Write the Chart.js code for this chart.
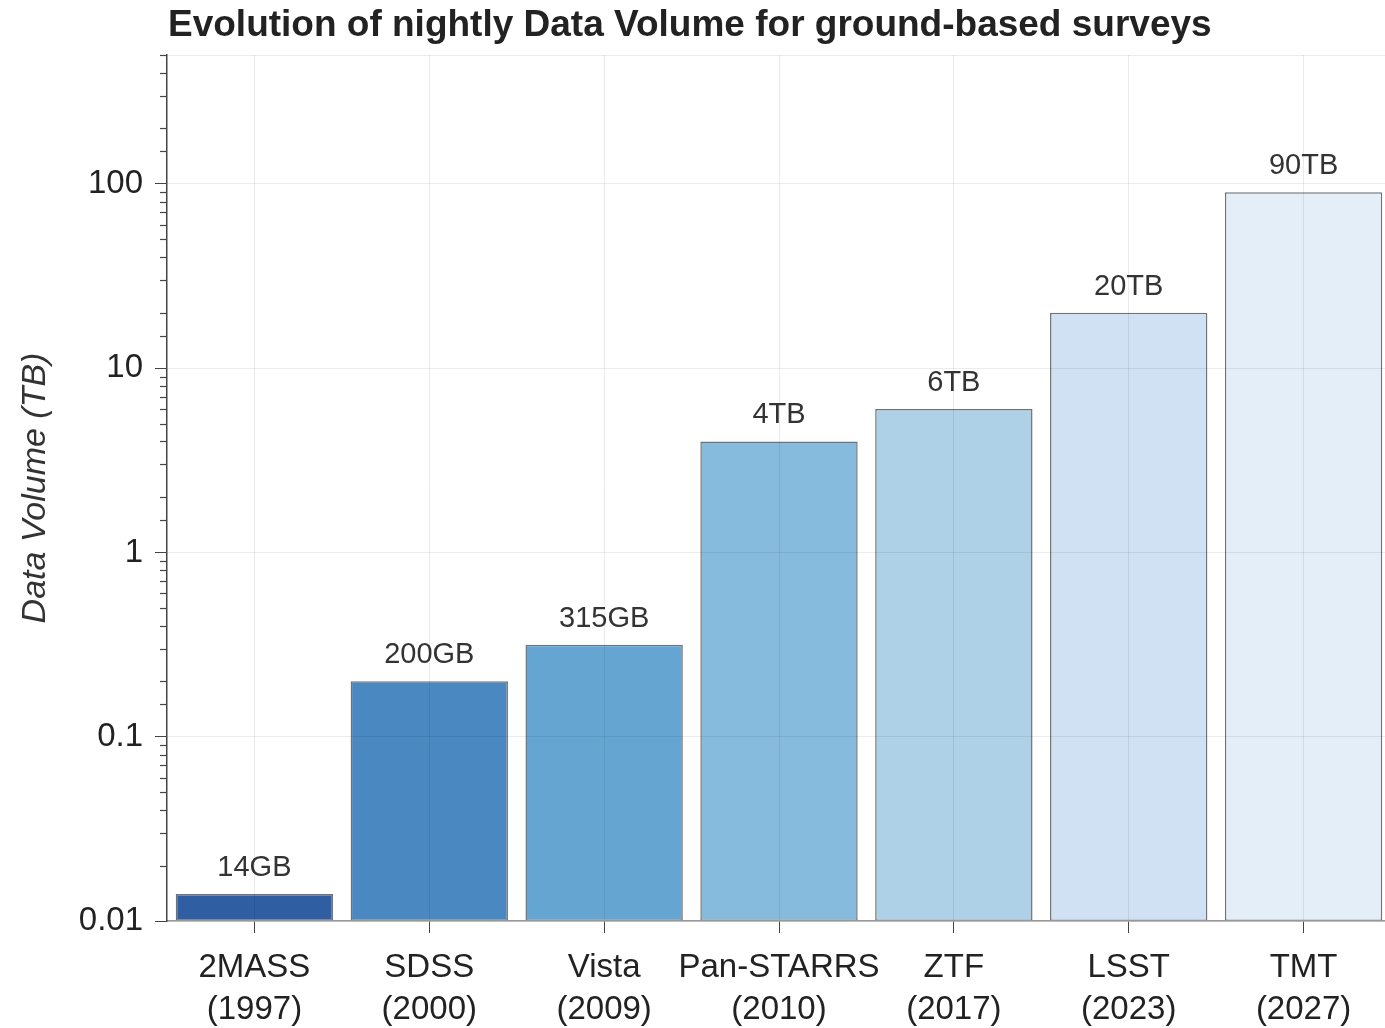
<!DOCTYPE html>
<html>
<head>
<meta charset="utf-8">
<script src="https://cdn.jsdelivr.net/npm/chart.js@4.4.0/dist/chart.umd.min.js"></script>
<style>
  html, body { margin: 0; padding: 0; background: #fff; overflow: hidden; }
  #wrap { width: 1391px; height: 1028px; }
</style>
</head>
<body>
<div id="wrap"><canvas id="grafico" width="1391" height="1028"></canvas></div>
<script>
// Dados
const surveys = ['2MASS', 'SDSS', 'Vista', 'Pan-STARRS', 'ZTF', 'LSST', 'TMT'];
const anos = ['1997', '2000', '2009', '2010', '2017', '2023', '2027'];
const volumeTB = [0.014, 0.2, 0.315, 4, 6, 20, 90];
const rotulos = ['14GB', '200GB', '315GB', '4TB', '6TB', '20TB', '90TB'];
const cores = ['#2f5fa2', '#4a88c2', '#65a5d2', '#87bbde', '#afd1e7', '#cfe1f2', '#e3eef9'];

const FONTE = '"Liberation Sans", Arial, Helvetica, sans-serif';
const TITULO = 'Evolution of nightly Data Volume for ground-based surveys';
const TITULO_Y = 'Data Volume (TB)';

function ehDecada(v) {
  const l = Math.log10(v);
  return Math.abs(l - Math.round(l)) < 1e-9;
}

// Título, rótulos das barras e ticks menores
const extras = {
  id: 'extras',
  afterDraw(chart) {
    const ctx = chart.ctx;
    const area = chart.chartArea;
    ctx.save();

    ctx.fillStyle = '#222';
    ctx.font = 'bold 37px ' + FONTE;
    ctx.textAlign = 'left';
    ctx.textBaseline = 'middle';
    ctx.fillText(TITULO, area.left + 1, 26);

    ctx.save();
    ctx.translate(36, (area.top + area.bottom) / 2);
    ctx.rotate(-Math.PI / 2);
    ctx.font = 'italic 34px ' + FONTE;
    ctx.fillStyle = '#333';
    ctx.textAlign = 'center';
    ctx.fillText(TITULO_Y, 0, 0);
    ctx.restore();

    const meta = chart.getDatasetMeta(0);
    ctx.font = '29px ' + FONTE;
    ctx.fillStyle = '#333';
    ctx.textAlign = 'center';
    meta.data.forEach((barra, i) => {
      ctx.fillText(rotulos[i], barra.x, barra.y - 26);
    });

    const y = chart.scales.y;
    ctx.strokeStyle = '#444';
    ctx.lineWidth = 1.2;
    y.ticks.forEach(t => {
      if (ehDecada(t.value)) return;
      const py = Math.round(y.getPixelForValue(t.value)) + 0.5;
      ctx.beginPath();
      ctx.moveTo(area.left - 7, py);
      ctx.lineTo(area.left, py);
      ctx.stroke();
    });
    ctx.restore();
  }
};

const ctx = document.getElementById('grafico').getContext('2d');
new Chart(ctx, {
  type: 'bar',
  data: {
    labels: surveys.map((s, i) => [s, '(' + anos[i] + ')']),
    datasets: [{
      data: volumeTB,
      backgroundColor: cores,
      borderColor: 'rgba(80,80,80,0.8)',
      borderWidth: 1.5,
      borderSkipped: false,
      barPercentage: 0.9,
      categoryPercentage: 1
    }]
  },
  options: {
    responsive: false,
    animation: false,
    layout: { padding: { top: 55, left: 0, right: 0, bottom: 0 } },
    plugins: {
      legend: { display: false },
      tooltip: { enabled: false },
      title: { display: false }
    },
    scales: {
      x: {
        afterFit: s => { s.height = 107; },
        border: { color: '#9a9a9a', width: 1.5, z: 1 },
        grid: {
          offset: false,
          z: 1,
          color: 'rgba(0,0,0,0.08)',
          tickColor: '#444',
          tickLength: 12
        },
        ticks: {
          autoSkip: false,
          maxRotation: 0,
          padding: 13,
          color: '#222',
          font: { family: FONTE, size: 33, lineHeight: 1.3 }
        }
      },
      y: {
        type: 'logarithmic',
        min: 0.01,
        max: 500,
        afterFit: s => { s.width = 167; },
        border: { color: '#444', width: 1.5, z: 1 },
        grid: {
          z: 1,
          color: c => (ehDecada(c.tick.value) || c.tick.value === 500) ? 'rgba(0,0,0,0.08)' : 'rgba(0,0,0,0)',
          tickColor: c => ehDecada(c.tick.value) ? '#444' : 'rgba(0,0,0,0)',
          tickLength: 12
        },
        ticks: {
          autoSkip: false,
          padding: 12,
          color: '#222',
          font: { family: FONTE, size: 33 },
          callback: v => ehDecada(v) ? String(Number(v.toPrecision(1))) : ''
        }
      }
    }
  },
  plugins: [extras]
});
</script>
</body>
</html>
